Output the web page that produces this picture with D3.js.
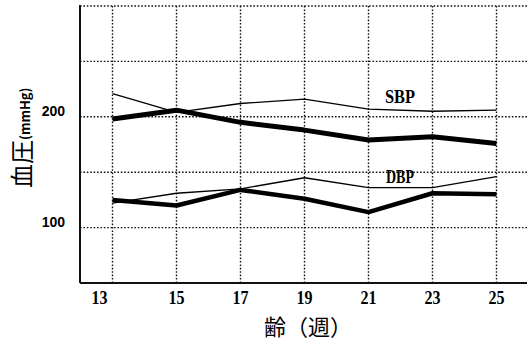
<!DOCTYPE html>
<html>
  <head>
    <meta charset="utf-8">
    <title>血圧</title>
    <script src="https://d3js.org/d3.v7.min.js"></script>
    <style>
      body { margin: 0; background: #fff; }
    </style>
  </head>

  <body>
    <script>
      // weeks of age and blood pressure (mmHg)
      var weeks = [13, 15, 17, 19, 21, 23, 25];
      var sbpThin = [221, 204, 212, 216, 207, 205, 206];
      var sbpThick = [198, 206, 195, 188, 179, 182, 176];
      var dbpThin = [122, 131, 135, 145, 136, 136, 146];
      var dbpThick = [125, 120, 134, 126, 114, 131, 130];
      var yGrid = [100, 150, 200, 250, 300];
      var yLabels = [100, 200];

      var width = 531, height = 341;
      var mLeft = 80, mRight = 527, mTop = 6, mBottom = 283;

      var svg = d3.select("body")
        .append("svg")
          .attr("width", width)
          .attr("height", height);

      var x = d3.scaleLinear().domain([13, 25]).range([112.5, 496.5]);
      var y = d3.scaleLinear().domain([50, 300]).range([mBottom, mTop]);

      // dotted grid
      svg.selectAll(".hgrid")
        .data(yGrid)
        .enter()
        .append("line")
          .attr("x1", mLeft)
          .attr("x2", mRight)
          .attr("y1", d => y(d))
          .attr("y2", d => y(d))
          .style("stroke", "#111")
          .style("stroke-width", 1.4)
          .style("stroke-dasharray", "1.6,1.8");

      svg.selectAll(".vgrid")
        .data(weeks)
        .enter()
        .append("line")
          .attr("x1", d => x(d))
          .attr("x2", d => x(d))
          .attr("y1", mTop)
          .attr("y2", mBottom)
          .style("stroke", "#111")
          .style("stroke-width", 1.4)
          .style("stroke-dasharray", "1.6,1.8");

      // axes
      svg.append("line")
          .attr("x1", mLeft).attr("x2", mLeft)
          .attr("y1", mTop - 1).attr("y2", mBottom)
          .style("stroke", "#111").style("stroke-width", 2);
      svg.append("line")
          .attr("x1", mLeft).attr("x2", mRight)
          .attr("y1", mBottom).attr("y2", mBottom)
          .style("stroke", "#111").style("stroke-width", 2);

      // y tick labels
      svg.selectAll(".ylab")
        .data(yLabels)
        .enter()
        .append("text")
          .attr("x", 65)
          .attr("y", d => y(d) - 0.5)
          .attr("text-anchor", "end")
          .style("font-family", "Liberation Sans, Arial, sans-serif")
          .style("font-weight", "bold")
          .style("font-size", "14px")
          .text(d => d);

      // x tick labels
      svg.selectAll(".xlab")
        .data(weeks)
        .enter()
        .append("text")
          .attr("x", (d, i) => x(d) - (i == 0 ? 13 : 0))
          .attr("y", 304)
          .attr("text-anchor", "middle")
          .attr("textLength", 16)
          .attr("lengthAdjust", "spacingAndGlyphs")
          .style("font-family", "Liberation Serif, serif")
          .style("font-weight", "bold")
          .style("font-size", "19px")
          .text(d => d);

      // axis titles
      svg.append("text")
          .attr("x", 264)
          .attr("y", 335)
          .style("font-family", "Noto Sans CJK JP")
          .style("font-size", "22px")
          .text("齢（週）");

      var yt = svg.append("text")
          .attr("transform", "translate(31,188) rotate(-90)")
          .style("font-family", "Noto Sans CJK JP");
      yt.append("tspan")
          .style("font-size", "24px")
          .text("血圧");
      yt.append("tspan")
          .style("font-size", "13px")
          .style("font-weight", "bold")
          .attr("dy", -1)
          .text("(mmHg)");

      // lines
      var line = d3.line()
        .x((d, i) => x(weeks[i]))
        .y(d => y(d));

      var series = [
        { v: sbpThin, w: 1.3 },
        { v: dbpThin, w: 1.3 },
        { v: sbpThick, w: 5 },
        { v: dbpThick, w: 4.5 }
      ];

      svg.selectAll(".series")
        .data(series)
        .enter()
        .append("path")
          .attr("d", d => line(d.v))
          .style("fill", "none")
          .style("stroke", "#000")
          .style("stroke-width", d => d.w)
          .style("stroke-linejoin", "round");

      // series labels
      svg.append("text")
          .attr("x", 400).attr("y", 103)
          .attr("text-anchor", "middle")
          .attr("textLength", 30)
          .attr("lengthAdjust", "spacingAndGlyphs")
          .style("font-family", "Liberation Serif, serif")
          .style("font-weight", "bold")
          .style("font-size", "18px")
          .text("SBP");
      svg.append("text")
          .attr("x", 400).attr("y", 183)
          .attr("text-anchor", "middle")
          .attr("textLength", 28)
          .attr("lengthAdjust", "spacingAndGlyphs")
          .style("font-family", "Liberation Serif, serif")
          .style("font-weight", "bold")
          .style("font-size", "18px")
          .text("DBP");
    </script>
  </body>
</html>
